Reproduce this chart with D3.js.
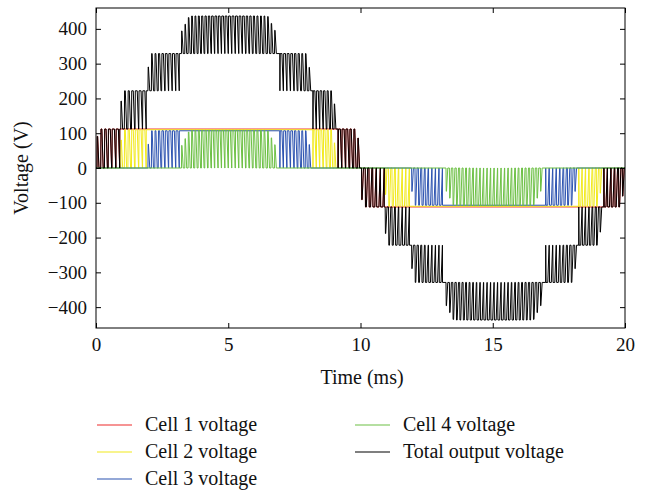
<!DOCTYPE html>
<html lang="en">
<head>
<meta charset="utf-8">
<title>Cell voltages</title>
<script src="https://cdnjs.cloudflare.com/ajax/libs/d3/7.8.5/d3.min.js"></script>
<style>
  body { margin: 0; background: #fff; }
  svg text { font-family: "Liberation Serif", "DejaVu Serif", serif; fill: #111; }
  .axis path { display: none; }
  .axis line { stroke: #000; }
</style>
</head>
<body>
<svg id="chart" width="650" height="492"></svg>
<script>
var xTicks = [0, 5, 10, 15, 20];
var yTicks = [-400, -300, -200, -100, 0, 100, 200, 300, 400];
var seriesNames = ["Cell 1 voltage", "Cell 2 voltage", "Cell 3 voltage", "Cell 4 voltage", "Total output voltage"];
var seriesColors = ["#ee2a2a", "#f2ea1c", "#2b52b0", "#6cc044", "#000000"];

// dc level of each cell (V)
var cellLevels = [112, 110, 107, 108];

// switching windows per cell: [from ms, to ms, polarity, pulses, duty at start, duty at end]
// pulses = 0 -> cell held on for the whole window; outside the windows it sits at 0 V
var cell1Windows = [
  [0.0, 0.9, 1, 6, 0.1, 0.85], [0.9, 9.15, 1, 0, 1, 1], [9.15, 10.0, 1, 6, 0.85, 0.1],
  [10.0, 10.9, -1, 6, 0.1, 0.85], [10.9, 19.2, -1, 0, 1, 1], [19.2, 20.0, -1, 6, 0.85, 0.1]
];
var cell2Windows = [
  [0.9, 1.9, 1, 7, 0.1, 0.85], [1.9, 8.2, 1, 0, 1, 1], [8.2, 9.1, 1, 7, 0.85, 0.1],
  [10.9, 11.85, -1, 7, 0.1, 0.85], [11.85, 18.25, -1, 0, 1, 1], [18.25, 19.15, -1, 7, 0.85, 0.1]
];
var cell3Windows = [
  [1.93, 3.15, 1, 9, 0.1, 0.85], [3.15, 6.95, 1, 0, 1, 1], [6.95, 8.15, 1, 9, 0.85, 0.1],
  [11.9, 13.1, -1, 9, 0.1, 0.85], [13.1, 17.0, -1, 0, 1, 1], [17.0, 18.2, -1, 9, 0.85, 0.1]
];
var cell4Windows = [
  [3.2, 5.0, 1, 14, 0.12, 0.7], [5.0, 6.85, 1, 14, 0.7, 0.12],
  [13.2, 15.05, -1, 14, 0.12, 0.7], [15.05, 16.9, -1, 14, 0.7, 0.12]
];

// shape of one drawn pulse (ms): fast rise, slow fall, narrower pulses stay short
var riseTime = 0.01, fallTime = 0.05, fullWidth = 0.03;

var svg = d3.select("#chart");
var x = d3.scaleLinear().domain([0, 20]).range([96, 625]);
var y = d3.scaleLinear().domain([-460, 460]).range([328, 8]);

function cellWave(windows, level) {
  var pts = [[0, 0]];
  windows.forEach(function(wn) {
    var a = wn[0], b = wn[1], hi = wn[2] * level, n = wn[3];
    if (n === 0) { pts.push([a, hi], [b, hi]); return; }
    var p = (b - a) / n;
    for (var k = 0; k < n; k++) {
      var d = wn[4] + (wn[5] - wn[4]) * (k + 0.5) / n;
      var c = a + (k + 0.5) * p;
      var w = Math.max(riseTime, Math.min(d * p, p - fallTime - 0.006));
      var h = hi * Math.min(1, w / fullWidth);
      var s = c - (w + fallTime) / 2;
      pts.push([s, 0], [s + riseTime, h], [s + w, h], [s + w + fallTime, 0]);
    }
  });
  if (pts[pts.length - 1][0] < 20) pts.push([20, 0]);
  return pts;
}

var cells = [cell1Windows, cell2Windows, cell3Windows, cell4Windows].map(function(w, i) {
  return cellWave(w, cellLevels[i]);
});

var bis = d3.bisector(function(d) { return d[0]; }).left;
function valueAt(pts, t) {
  var i = bis(pts, t);
  if (i >= pts.length) return pts[pts.length - 1][1];
  if (pts[i][0] === t || i === 0) return pts[i][1];
  var p0 = pts[i - 1], p1 = pts[i];
  return p0[1] + (p1[1] - p0[1]) * (t - p0[0]) / (p1[0] - p0[0]);
}
var allT = Array.from(new Set(d3.merge(cells).map(function(d) { return d[0]; }))).sort(d3.ascending);
var total = allT.map(function(t) {
  return [t, d3.sum(cells, function(c) { return valueAt(c, t); })];
});

svg.append("clipPath").attr("id", "clip")
  .append("rect").attr("x", 96).attr("y", 8).attr("width", 529).attr("height", 320);

var line = d3.line().x(function(d) { return x(d[0]); }).y(function(d) { return y(d[1]); });
var plot = svg.append("g").attr("clip-path", "url(#clip)");
cells.concat([total]).forEach(function(pts, i) {
  plot.append("path")
    .attr("d", line(pts))
    .attr("fill", "none")
    .attr("stroke", seriesColors[i])
    .attr("stroke-width", 1);
});

// axes, ticks inward on all four sides
var fmt = d3.format("d");
svg.append("g").attr("class", "axis").attr("transform", "translate(96,0)")
  .call(d3.axisLeft(y).tickValues(yTicks).tickSize(-5).tickPadding(9).tickFormat(fmt))
  .selectAll("text").style("font-size", "19px");
svg.append("g").attr("class", "axis").attr("transform", "translate(625,0)")
  .call(d3.axisRight(y).tickValues(yTicks).tickSize(-5).tickFormat(""));
svg.append("g").attr("class", "axis").attr("transform", "translate(0,328)")
  .call(d3.axisBottom(x).tickValues(xTicks).tickSize(-5).tickPadding(10).tickFormat(fmt))
  .selectAll("text").style("font-size", "19px");
svg.append("g").attr("class", "axis").attr("transform", "translate(0,8)")
  .call(d3.axisTop(x).tickValues(xTicks).tickSize(-5).tickFormat(""));
svg.append("rect").attr("x", 96).attr("y", 8).attr("width", 529).attr("height", 320)
  .attr("fill", "none").attr("stroke", "#000").attr("stroke-width", 1);

svg.append("text").attr("x", 362).attr("y", 384).attr("text-anchor", "middle")
  .style("font-size", "20px").text("Time (ms)");
svg.append("text").attr("transform", "translate(28,168) rotate(-90)").attr("text-anchor", "middle")
  .style("font-size", "20px").text("Voltage (V)");

// legend, two columns
var legendPos = [[97, 425], [97, 452], [97, 479], [355, 425], [355, 452]];
seriesNames.forEach(function(name, i) {
  var p = legendPos[i];
  svg.append("line").attr("x1", p[0]).attr("x2", p[0] + 35).attr("y1", p[1]).attr("y2", p[1])
    .attr("stroke", seriesColors[i]).attr("stroke-width", 1.1);
  svg.append("text").attr("x", p[0] + 48).attr("y", p[1] + 6).style("font-size", "20px").text(name);
});
</script>
</body>
</html>
